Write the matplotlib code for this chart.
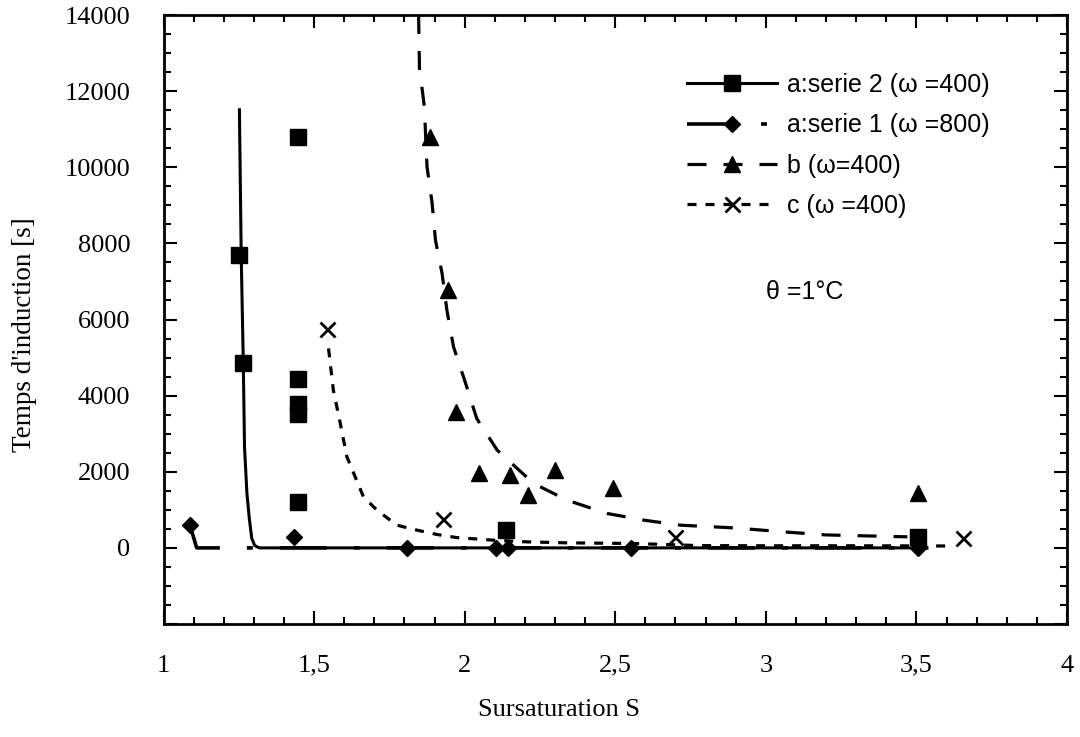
import matplotlib
matplotlib.use("Agg")
import matplotlib.pyplot as plt
import numpy as np
from matplotlib.lines import Line2D

plt.rcParams['lines.scale_dashes'] = False

# ---------------- data ----------------
# a: serie 2 (omega=400) - squares
s2_x = [1.252, 1.265, 1.448, 1.446, 1.446, 1.446, 1.446, 2.138, 3.504]
s2_y = [7700, 4850, 10800, 4430, 3770, 3530, 1210, 465, 290]
s2_fit_x = [1.252, 1.258, 1.265, 1.269, 1.277, 1.285, 1.293, 1.303, 1.318, 3.52]
s2_fit_y = [11550, 7700, 4850, 2650, 1430, 770, 250, 60, 0, 0]

# a: serie 1 (omega=800) - diamonds
s1_x = [1.088, 1.434, 1.81, 2.105, 2.143, 2.553, 3.504]
s1_y = [600, 290, 0, 0, 0, 0, 0]
s1_fit_x = [1.088, 1.11, 3.54]
s1_fit_y = [600, 0, 0]

# b (omega=400) - triangles
b_x = [1.886, 1.943, 1.972, 2.047, 2.152, 2.211, 2.301, 2.492, 3.504]
b_y = [10800, 6780, 3565, 1971, 1910, 1385, 2041, 1560, 1430]
b_fit_x = [1.847, 1.850, 1.858, 1.866, 1.875, 1.892, 1.903, 1.925, 1.941, 1.963,
           2.0, 2.04, 2.108, 2.229, 2.34, 2.473, 2.595, 2.717, 2.894, 3.06, 3.2, 3.47]
b_fit_y = [14000, 12550, 12100, 11600, 10010, 9049, 8085, 7210, 6245, 5281,
           4400, 3400, 2567, 1692, 1253, 904, 728, 596, 525, 420, 340, 290]

# c (omega=400) - crosses
c_x = [1.5425, 1.928, 2.697, 3.654]
c_y = [5740, 750, 289, 247]
c_fit_x = [1.548, 1.564, 1.587, 1.609, 1.664, 1.709, 1.775, 1.842, 1.908, 1.974,
           2.096, 2.207, 2.34, 2.56, 2.78, 3.0, 3.3, 3.6]
c_fit_y = [5240, 4143, 3268, 2391, 1340, 990, 596, 465, 352, 270,
           202, 158, 132, 115, 60, 55, 55, 50]

labels = ["a:serie 2 (\u03c9 =400)", "a:serie 1 (\u03c9 =800)",
          "b (\u03c9=400)", "c (\u03c9 =400)"]

xticks = [1, 1.5, 2, 2.5, 3, 3.5, 4]
xtick_labels = ["1", "1,5", "2", "2,5", "3", "3,5", "4"]
yticks = [-2000, 0, 2000, 4000, 6000, 8000, 10000, 12000, 14000]
ytick_labels = ["", "0", "2000", "4000", "6000", "8000", "10000", "12000", "14000"]

# ---------------- figure ----------------
W, H = 1080, 737
fig = plt.figure(figsize=(W / 100, H / 100), dpi=100)
L, R, T, B = 163.5, 1067, 15, 624
ax = fig.add_axes([L / W, 1 - B / H, (R - L) / W, (B - T) / H])

p = 72 / 100.0  # px -> pt
k = 'black'
d_s1 = (47 * p, 27 * p, 6 * p, 27 * p)
d_b = (19 * p, 17 * p)
d_c = (9 * p, 9 * p)

# fit curves
ax.plot(s2_fit_x, s2_fit_y, color=k, lw=2.2, solid_capstyle='butt', zorder=2)
ax.plot(s1_fit_x, s1_fit_y, color=k, lw=2.6, dashes=d_s1, dash_capstyle='butt', zorder=2)
ax.plot(b_fit_x, b_fit_y, color=k, lw=2.3, dashes=d_b, dash_capstyle='butt', zorder=2)
ax.plot(c_fit_x, c_fit_y, color=k, lw=2.3, dashes=d_c, dash_capstyle='butt', zorder=2)

# markers
ax.plot(s2_x, s2_y, ls='none', marker='s', ms=11.5, color=k, zorder=3)
ax.plot(s1_x, s1_y, ls='none', marker='D', ms=8.6, color=k, zorder=3)
ax.plot(b_x, b_y, ls='none', marker='^', ms=11.5, color=k, zorder=3)
ax.plot(c_x, c_y, ls='none', marker='x', ms=10.8, mew=2.0, color=k, zorder=3)

# legend proxies (style only)
h1 = Line2D([], [], color=k, lw=2.2, marker='s', ms=11.5)
h2 = Line2D([], [], color=k, lw=2.6, marker='D', ms=8.6, dashes=d_s1, dash_capstyle='butt')
h3 = Line2D([], [], color=k, lw=2.3, marker='^', ms=11.5, dashes=d_b, dash_capstyle='butt')
h4 = Line2D([], [], color=k, lw=2.3, marker='x', ms=10.8, mew=2.0, dashes=d_c, dash_capstyle='butt')
fs_leg = 18
fpx = fs_leg * 100 / 72
ax.legend([h1, h2, h3, h4], labels, loc='upper left',
          bbox_to_anchor=(686.7 / W, 1 - 73 / H), bbox_transform=fig.transFigure,
          frameon=False, borderpad=0, borderaxespad=0, numpoints=1,
          handlelength=90 / fpx, handletextpad=10 / fpx,
          labelspacing=0.65, prop={'family': 'Liberation Sans', 'size': fs_leg})

# annotation
ax.text(3.0, 6718, "\u03b8 =1\u00b0C", family='Liberation Sans', fontsize=18,
        ha='left', va='center')

# axes
ax.set_xlim(1, 4)
ax.set_ylim(-2000, 14000)
ax.set_xticks(xticks)
ax.set_xticklabels(xtick_labels)
ax.set_yticks(yticks)
ax.set_yticklabels(ytick_labels)
ax.set_xticks(np.arange(1, 4.001, 0.1), minor=True)
ax.set_yticks(np.arange(-2000, 14001, 500), minor=True)

ax.tick_params(which='both', direction='in', top=True, right=True, width=1.5, color=k)
ax.tick_params(which='major', length=9.5)
ax.tick_params(which='minor', length=5)
ax.tick_params(axis='x', which='major', pad=22)
ax.tick_params(axis='y', which='major', pad=24)
for lab in ax.get_xticklabels() + ax.get_yticklabels():
    lab.set_family('Liberation Serif')
    lab.set_fontsize(19)
for sp in ax.spines.values():
    sp.set_linewidth(2.0)

ax.set_xlabel("Sursaturation S", family='Liberation Serif', fontsize=19, va='center')
ax.xaxis.set_label_coords((559 - L) / (R - L), (B - 710) / (B - T))
ax.set_ylabel("Temps d'induction [s]", family='Liberation Serif', fontsize=19.5,
              va='center', ha='center')
ax.yaxis.set_label_coords((25 - L) / (R - L), (B - 335) / (B - T))

fig.savefig("out.png", dpi=100)
